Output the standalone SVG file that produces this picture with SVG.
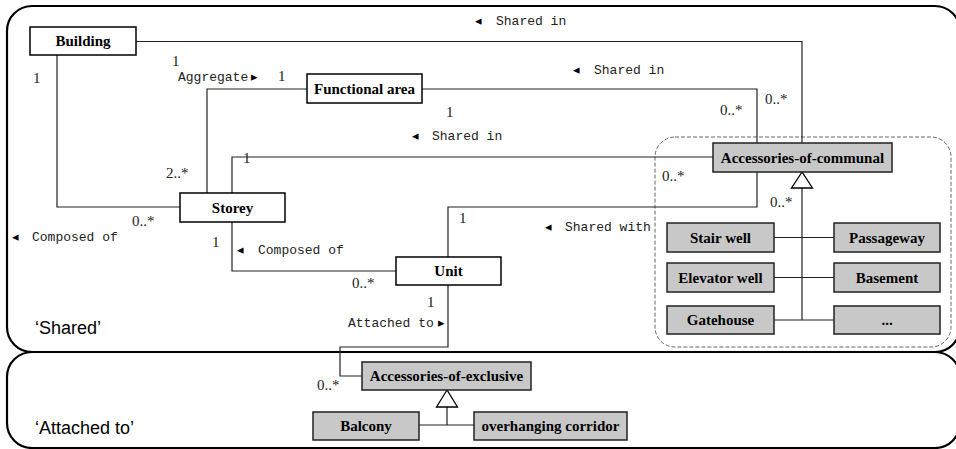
<svg xmlns="http://www.w3.org/2000/svg" width="956" height="449" viewBox="0 0 956 449">
<style>
.frame{fill:none;stroke:#000;stroke-width:2.2}
.box{fill:#fff;stroke:#000;stroke-width:1.5}
.gbox{fill:#c8c8c8;stroke:#222;stroke-width:1.5}
.bl{font-family:"Liberation Serif",serif;font-weight:bold;font-size:15px;text-anchor:middle;fill:#000}
.conn{fill:none;stroke:#222;stroke-width:1.2}
.gen{fill:#fff;stroke:#000;stroke-width:1.3}
.lab{font-family:"Liberation Mono",monospace;font-size:13px;fill:#222}
.arr{font-family:"DejaVu Sans",sans-serif;font-size:13px;fill:#000}
.mul{font-family:"Liberation Serif",serif;font-size:15px;fill:#222}
.reg{font-family:"Liberation Sans",Arial,sans-serif;font-size:18px;fill:#000}
.dash{fill:none;stroke:#666;stroke-width:1;stroke-dasharray:4,2}
</style>
<g id="frames">
<rect class="frame" x="7" y="6" width="953" height="346" rx="25"/>
<rect class="frame" x="7" y="352" width="953" height="96" rx="25"/>
<text class="reg" x="35" y="334">‘Shared’</text>
<text class="reg" x="35" y="434">‘Attached to’</text>
</g>
<rect id="communal-group" class="dash" x="655" y="137" width="296" height="210" rx="20"/>
<g id="connectors">
<path class="conn" d="M136,41.5 H802 V143"/>
<path class="conn" d="M57,55 V207 H180"/>
<path class="conn" d="M207,193 V89 H307"/>
<path class="conn" d="M422,89 H757 V143"/>
<path class="conn" d="M232,193 V157 H713"/>
<path class="conn" d="M448,257 V207 H757 V172"/>
<path class="conn" d="M232,222 V271 H396"/>
<path class="conn" d="M448,285 V347 H340 V376 H362"/>
<path class="conn" d="M802,188 V320"/>
<path class="conn" d="M774,237.5 H834 M774,277.5 H834 M774,320 H834"/>
<polygon class="gen" points="802,172 791.5,188 812.5,188"/>
<path class="conn" d="M447,407 V425 M419,425 H474"/>
<polygon class="gen" points="447,390 436.5,407 457.5,407"/>
<text class="arr" x="475" y="25">◂</text><text class="lab" x="496" y="25">Shared in</text>
<text class="arr" x="573" y="74">◂</text><text class="lab" x="594" y="74">Shared in</text>
<text class="arr" x="412" y="140">◂</text><text class="lab" x="432" y="140">Shared in</text>
<text class="lab" x="178" y="81">Aggregate</text><text class="arr" x="251" y="81">▸</text>
<text class="arr" x="12" y="241">◂</text><text class="lab" x="32" y="241">Composed of</text>
<text class="arr" x="237" y="254">◂</text><text class="lab" x="258" y="254">Composed of</text>
<text class="lab" x="348" y="327">Attached to</text><text class="arr" x="438" y="327">▸</text>
<text class="arr" x="545" y="231">◂</text><text class="lab" x="565" y="231">Shared with</text>
<text class="mul" x="172" y="66">1</text>
<text class="mul" x="278" y="81">1</text>
<text class="mul" x="33" y="83">1</text>
<text class="mul" x="166" y="178">2..*</text>
<text class="mul" x="132" y="226">0..*</text>
<text class="mul" x="243" y="163">1</text>
<text class="mul" x="446" y="117">1</text>
<text class="mul" x="765" y="104">0..*</text>
<text class="mul" x="720" y="115">0..*</text>
<text class="mul" x="662" y="181">0..*</text>
<text class="mul" x="770" y="207">0..*</text>
<text class="mul" x="459" y="223">1</text>
<text class="mul" x="212" y="247">1</text>
<text class="mul" x="352" y="288">0..*</text>
<text class="mul" x="427" y="307">1</text>
<text class="mul" x="317" y="390">0..*</text>
</g>
<g id="building"><rect class="box" x="30" y="27" width="106" height="28"/><text class="bl" x="83" y="46">Building</text></g>
<g id="functional-area"><rect class="box" x="307" y="74" width="115" height="29"/><text class="bl" x="364.5" y="94">Functional area</text></g>
<g id="storey"><rect class="box" x="180" y="193" width="105" height="29"/><text class="bl" x="232.5" y="213">Storey</text></g>
<g id="unit"><rect class="box" x="396" y="257" width="105" height="28"/><text class="bl" x="448.5" y="276">Unit</text></g>
<g id="accessories-of-communal"><rect class="gbox" x="713" y="143" width="179" height="29"/><text class="bl" x="802.5" y="163">Accessories-of-communal</text></g>
<g id="stair-well"><rect class="gbox" x="667" y="223" width="107" height="29"/><text class="bl" x="720.5" y="243">Stair well</text></g>
<g id="passageway"><rect class="gbox" x="834" y="223" width="106" height="29"/><text class="bl" x="887" y="243">Passageway</text></g>
<g id="elevator-well"><rect class="gbox" x="667" y="263" width="107" height="29"/><text class="bl" x="720.5" y="283">Elevator well</text></g>
<g id="basement"><rect class="gbox" x="834" y="263" width="106" height="29"/><text class="bl" x="887" y="283">Basement</text></g>
<g id="gatehouse"><rect class="gbox" x="667" y="306" width="107" height="28"/><text class="bl" x="720.5" y="325">Gatehouse</text></g>
<g id="etc"><rect class="gbox" x="834" y="306" width="106" height="28"/><text class="bl" x="887" y="325">...</text></g>
<g id="accessories-of-exclusive"><rect class="gbox" x="362" y="362" width="169" height="28"/><text class="bl" x="446.5" y="381">Accessories-of-exclusive</text></g>
<g id="balcony"><rect class="gbox" x="313" y="412" width="106" height="28"/><text class="bl" x="366" y="431">Balcony</text></g>
<g id="overhanging-corridor"><rect class="gbox" x="474" y="412" width="153" height="28"/><text class="bl" x="550.5" y="431">overhanging corridor</text></g>
</svg>
